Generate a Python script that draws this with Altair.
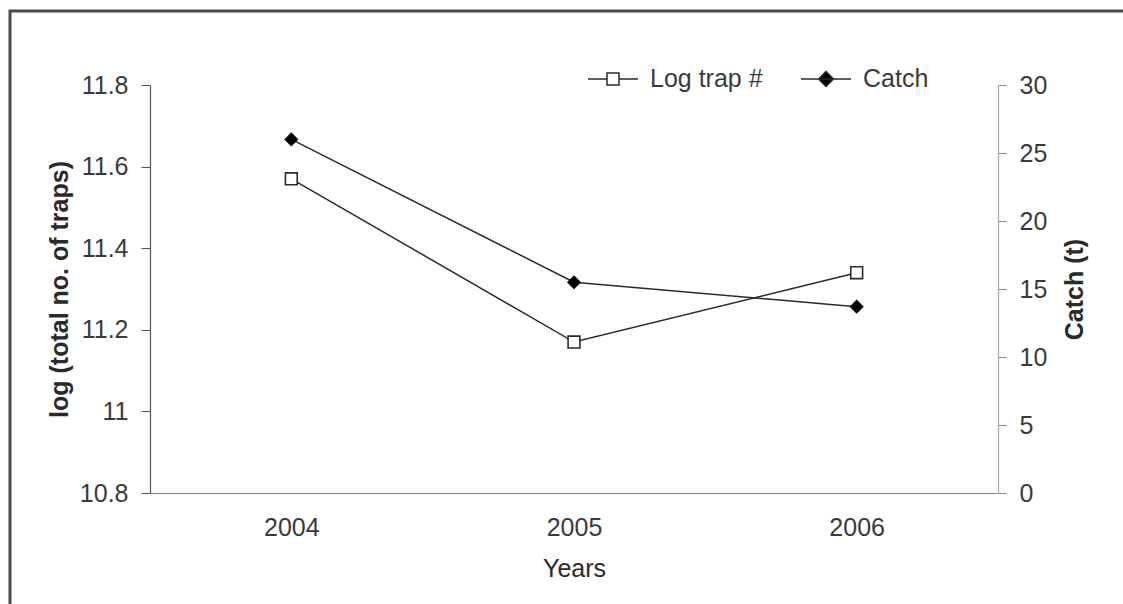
import altair as alt
import pandas as pd

# Values per season
years = ["2004", "2005", "2006"]
log_traps = [11.57, 11.17, 11.34]   # log of total number of traps
catch_t = [26.0, 15.5, 13.7]        # catch in tonnes

series_names = ["Log trap #", "Catch"]
left_ticks = [10.8, 11.0, 11.2, 11.4, 11.6, 11.8]
right_ticks = [0, 5, 10, 15, 20, 25, 30]

df = pd.DataFrame({"year": years, "traps": log_traps, "catch": catch_t})
legend_df = pd.DataFrame({"series": series_names})

FONT = "Liberation Sans"
INK = "#2a2a2a"
LABEL = "#3a3a3a"

x_enc = alt.X(
    "year:N",
    title="Years",
    scale=alt.Scale(type="point", padding=0.5),
    axis=alt.Axis(
        labelAngle=0, ticks=False, labelPadding=22, grid=False,
        domainColor="#8a8a8a", domainWidth=1.2,
        labelFontSize=25, labelColor=LABEL, labelFont=FONT,
        titleFontSize=25, titleFont=FONT, titleColor=INK, titleFontWeight="normal",
        titleX=424, titleY=75, titleAlign="center", titleBaseline="middle",
    ),
)

y_left = alt.Y(
    "traps:Q",
    scale=alt.Scale(domain=[10.8, 11.8], nice=False, zero=False),
    axis=alt.Axis(
        values=left_ticks, format="~g", grid=False,
        title="log (total no. of traps)",
        tickSize=9, tickColor="#555", labelPadding=13,
        domainColor="#555", domainWidth=1.2,
        labelFontSize=25, labelColor=LABEL, labelFont=FONT,
        titleFontSize=25, titleFont=FONT, titleColor=INK, titleFontWeight="bold",
        titleAngle=270, titleX=-91, titleY=204, titleAlign="center", titleBaseline="middle",
    ),
)

y_right = alt.Y(
    "catch:Q",
    scale=alt.Scale(domain=[0, 30], nice=False),
    axis=alt.Axis(
        orient="right", values=right_ticks, grid=False,
        title="Catch (t)",
        tickSize=8, tickColor="#888", labelPadding=13,
        domainColor="#aaaaaa", domainWidth=1.2,
        labelFontSize=25, labelColor=LABEL, labelFont=FONT,
        titleFontSize=25, titleFont=FONT, titleColor=INK, titleFontWeight="bold",
        titleAngle=270, titleX=76, titleY=204, titleAlign="center", titleBaseline="middle",
    ),
)

traps_base = alt.Chart(df).encode(x=x_enc, y=y_left)
traps = alt.layer(
    traps_base.mark_line(color=INK, strokeWidth=1.5),
    traps_base.mark_point(shape="square", size=140, filled=True, fill="white",
                          stroke=INK, strokeWidth=1.6, opacity=1),
)

catch_base = alt.Chart(df).encode(x=x_enc, y=y_right)
catch = alt.layer(
    catch_base.mark_line(color=INK, strokeWidth=1.5),
    catch_base.mark_point(shape="diamond", size=200, filled=True, color="black", opacity=1),
)

# Legend symbols: a short line with the series marker in the middle
trap_symbol = "M-1,0H-0.24M0.24,0H1M-0.24,-0.24H0.24V0.24H-0.24Z"
catch_symbol = "M-1,0H1M0,-0.3L0.3,0L0,0.3L-0.3,0Z"

legend_props = dict(
    orient="none", legendX=437, legendY=-32, direction="horizontal", title=None,
    symbolSize=2500, symbolStrokeWidth=1.5, symbolStrokeColor=INK, symbolOpacity=1,
    labelFontSize=25, labelFont=FONT, labelColor=LABEL, labelOffset=11,
    columnPadding=35, padding=0, symbolOffset=0,
)

legend_layer = alt.Chart(legend_df).mark_point(filled=True).encode(
    shape=alt.Shape("series:N", scale=alt.Scale(domain=series_names, range=[trap_symbol, catch_symbol]),
                    legend=alt.Legend(**legend_props)),
    fill=alt.Fill("series:N", scale=alt.Scale(domain=series_names, range=["white", "black"]),
                  legend=alt.Legend(**legend_props)),
    stroke=alt.Stroke("series:N", scale=alt.Scale(domain=series_names, range=[INK, INK]),
                      legend=alt.Legend(**legend_props)),
).transform_filter("false")

# Outer frame around the figure (left and top edges fall inside the canvas)
frame = alt.Chart(pd.DataFrame({"k": [0]})).mark_rect(
    fill="white", fillOpacity=0, stroke="#4a4a4a", strokeWidth=3
).encode(x=alt.value(-140), x2=alt.value(990), y=alt.value(-74), y2=alt.value(540))

chart = alt.layer(frame, traps, catch, legend_layer).resolve_scale(
    y="independent"
).properties(
    width=848, height=408,
    autosize=alt.AutoSizeParams(type="none"),
    padding={"left": 150, "top": 85, "right": 125, "bottom": 111},
    background="white",
).configure_view(stroke=None)

chart.save("out.html", embed_options={"renderer": "svg", "actions": False})
